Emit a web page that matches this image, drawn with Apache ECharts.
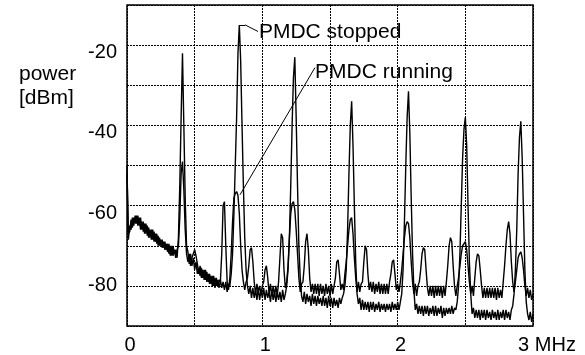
<!DOCTYPE html>
<html>
<head>
<meta charset="utf-8">
<script src="https://cdn.jsdelivr.net/npm/echarts@6/dist/echarts.min.js"></script>
<style>html,body{margin:0;padding:0;background:#fff}#c{width:585px;height:355px}</style>
</head>
<body>
<div id="c"></div>
<script>
// frequency sampling: 0.00 .. 3.00 MHz, step 0.01 MHz
var freqStep = 0.01;
var freqCount = 301;
var xTickLabels = {0:'0', 1:'1', 2:'2', 3:'3 MHz'};
var yTickLabels = [-20, -40, -60, -80];

// PMDC stopped (dBm)
var stopped = [
-50, -68.5, -65, -66, -63, -65, -62.5, -64.5, -62.5, -65,
-63, -66, -64, -67, -64.5, -67.5, -65.5, -68, -66, -68.5,
-66.5, -69, -67, -70, -68, -70, -68.5, -70.5, -69, -71,
-69.5, -72, -70, -72.5, -70, -72, -71, -73, -68, -55,
-38, -22, -40, -58, -70, -71.5, -74.5, -72, -75, -73,
-76, -74, -77, -75.5, -77.5, -75.5, -78, -76, -78.5, -76.5,
-79, -77, -79.5, -77.5, -80, -78, -80, -78.5, -80.5, -78.5,
-80.5, -79, -81, -79, -81.5, -79.5, -80, -77, -72, -62,
-50, -38, -22, -15, -24, -40, -55, -68, -76, -80,
-82, -80, -83, -80.5, -83, -81, -83.5, -80.5, -83.5, -81,
-83, -80.5, -83.5, -81, -83, -81.5, -84, -81, -83.5, -81.5,
-84, -81.5, -83.5, -81.5, -84, -81, -83.5, -82, -80, -76,
-68, -55, -40, -28, -23, -38, -55, -70, -78, -82.5,
-84, -81.5, -84.5, -82, -84, -82.5, -85, -82, -84.5, -82.5,
-85, -82.5, -84.5, -83, -85, -82.5, -85, -83, -85.5, -82.5,
-85, -83, -85.5, -83, -85, -83.5, -85.5, -83, -84.5, -83,
-82, -80, -76, -66, -52, -40, -34, -45, -60, -74,
-82, -84.5, -83, -86, -83.5, -86, -84, -86, -84, -86.5,
-84, -86, -84, -86.5, -84.5, -86, -84, -86.5, -84.5, -86,
-84.5, -86.5, -84.5, -86, -84.5, -86.5, -84, -86, -84.5, -86,
-84, -86, -84, -82, -76, -64, -50, -38, -31.5, -42,
-58, -72, -81, -86, -84.5, -87, -85, -87, -85, -87.5,
-85, -87, -85, -87.5, -85.5, -87, -85, -87.5, -85, -87.5,
-85.5, -87, -85, -88, -85.5, -87.5, -85.5, -87, -85.5, -87,
-85, -87, -85.5, -86, -84, -80, -72, -60, -48, -41,
-38, -45, -60, -74, -82, -87, -85.5, -88, -86, -88,
-86, -88.5, -86, -88, -86, -88.5, -86, -88, -86.5, -88.5,
-86, -88, -86.5, -88.5, -86, -88.5, -86.5, -88, -86, -88.5,
-86, -88, -86.5, -88.5, -86, -85, -82, -76, -66, -52,
-43, -39, -48, -62, -76, -84, -87, -88.5, -86.5, -89,
-87
];

// PMDC running (dBm)
var running = [
-52, -67, -66.5, -63.5, -65.5, -63, -64.5, -62.5, -65, -63,
-66, -64, -66.5, -64.5, -67, -65, -68, -66, -68.5, -66,
-69, -67, -69.5, -67.5, -70, -68.5, -70.5, -69, -71, -69.5,
-71.5, -69.5, -72.5, -70, -72.5, -71, -73, -71, -70, -63,
-52, -49, -56, -66, -72, -74, -72, -75, -73, -72,
-71, -72.5, -74.5, -77, -75, -78, -76, -78.5, -76, -79,
-77, -79.5, -77.5, -80, -77.5, -80.5, -78, -80, -78.5, -79,
-72, -60, -59, -70, -79, -81, -78, -72, -64, -58,
-57, -56.5, -57.5, -62, -70, -76, -79, -81, -79, -78,
-75, -71, -70.5, -74, -79, -82, -79.5, -81.5, -80, -82,
-80, -79, -76, -75, -78, -82, -79.5, -82.5, -80, -82.5,
-80, -82.5, -79, -73, -67, -68, -76, -80.5, -79, -75,
-68, -62, -59.5, -59, -61, -66, -72, -78, -81.5, -79.5,
-79, -75, -69, -67, -71, -78, -81.5, -79.5, -82, -79.5,
-82, -79.5, -82.5, -79.5, -82, -80, -82.5, -79.5, -82, -80,
-82.5, -79.5, -82, -80, -78, -74, -73.5, -77, -81, -79.5,
-81, -77, -74, -70, -66, -63.5, -63, -67, -73, -78,
-81.5, -79, -81.5, -79.5, -79, -74, -70, -71, -77, -81,
-79, -81.5, -79, -82, -79.5, -81.5, -79, -82, -79.5, -82,
-79.5, -82, -79.5, -82, -79, -77, -74, -73.5, -77, -81,
-79.5, -81.5, -79, -76, -72, -68, -65, -64, -64.5, -68,
-74, -79, -82, -79.5, -82.5, -80, -79, -76, -72, -70.5,
-71, -76, -80.5, -82.5, -80, -82.5, -80, -83, -80, -82.5,
-80, -82.5, -80, -83, -80, -82.5, -79, -75, -70, -68,
-69, -75, -80, -82.5, -80, -78, -75, -72, -70, -69.5,
-69, -71, -75, -79, -82, -80, -82.5, -78, -74, -72,
-72.5, -76, -80, -83, -80.5, -83, -80.5, -83, -80.5, -83,
-80.5, -83, -80.5, -83.5, -80.5, -83, -81, -83, -79, -75,
-70, -66, -64, -67, -74, -79, -81.5, -79, -76, -73,
-72, -71.5, -73, -76, -80, -82.5, -80.5, -83, -81, -83.5,
-82
];

var FONT = '"Liberation Sans", Arial, Helvetica, sans-serif';
function pts(arr) {
  var out = [];
  for (var i = 0; i < freqCount; i++) out.push([Math.round(i * freqStep * 100) / 100, arr[i]]);
  return out;
}

var chart = echarts.init(document.getElementById('c'), null, {renderer: 'canvas'});
chart.setOption({
  animation: false,
  backgroundColor: '#fff',
  title: {
    text: 'power\n[dBm]', left: 14, top: 57,
    textStyle: {fontSize: 21, fontWeight: 'normal', color: '#000', lineHeight: 24, fontFamily: FONT}
  },
  grid: {left: 127, right: 52, top: 5, bottom: 27, show: true, borderColor: '#000', borderWidth: 1.5, backgroundColor: 'transparent'},
  xAxis: {
    type: 'value', min: 0, max: 3, interval: 0.5,
    axisLine: {show: false}, axisTick: {show: false},
    splitLine: {show: true, lineStyle: {color: '#000', width: 1, type: [2, 1]}},
    axisLabel: {
      show: true, margin: 9, color: '#000', fontSize: 20, fontFamily: FONT, showMaxLabel: true, showMinLabel: true,
      formatter: function (v) {
        var s = xTickLabels[v];
        if (s === undefined) return '';
        if (v === 3) return '{m|' + s + '}';
        return '{n|' + s + '}';
      },
      rich: {
        n: {fontSize: 20, fontFamily: FONT, color: '#000', padding: [0, 0, 0, 6]},
        m: {fontSize: 20, fontFamily: FONT, color: '#000', padding: [0, 0, 0, 28]}
      }
    }
  },
  yAxis: {
    type: 'value', min: -90, max: -10, interval: 10,
    axisLine: {show: false}, axisTick: {show: false},
    splitLine: {show: true, lineStyle: {color: '#000', width: 1, type: [2, 1]}},
    axisLabel: {
      show: true, margin: 10, color: '#000', fontSize: 20, fontFamily: FONT,
      formatter: function (v) {
        if (yTickLabels.indexOf(v) < 0) return '';
        if (v === -80) return String(v);
        return '{d|' + v + '}';
      },
      rich: {d: {fontSize: 20, fontFamily: FONT, color: '#000', padding: [15, 0, 0, 0]}}
    }
  },
  series: [
    {
      name: 'PMDC stopped', type: 'line', data: pts(stopped), showSymbol: false, symbol: 'none',
      lineStyle: {color: '#000', width: 1.4}, emphasis: {disabled: true}, silent: true, z: 3,
      markLine: {
        symbol: 'none', silent: true, animation: false,
        lineStyle: {color: '#000', width: 1, type: 'solid'}, label: {show: false},
        data: [
          [{coord: [0.830, -14.95]}, {coord: [0.872, -14.95]}],
          [{coord: [0.872, -14.95]}, {coord: [0.968, -16.6]}],
          [{coord: [0.835, -57.3]}, {coord: [1.389, -25.6]}]
        ]
      },
      markPoint: {
        silent: true, animation: false, symbol: 'circle', symbolSize: 0,
        label: {show: true, position: 'right', distance: 0, color: '#000', fontSize: 21, fontFamily: FONT, formatter: '{b}'},
        data: [
          {name: 'PMDC stopped', coord: [0.975, -16.8]},
          {name: 'PMDC running', coord: [1.39, -26.7]}
        ]
      }
    },
    {
      name: 'PMDC running', type: 'line', data: pts(running), showSymbol: false, symbol: 'none',
      lineStyle: {color: '#000', width: 1.4}, emphasis: {disabled: true}, silent: true, z: 3
    }
  ]
});
</script>
</body>
</html>
